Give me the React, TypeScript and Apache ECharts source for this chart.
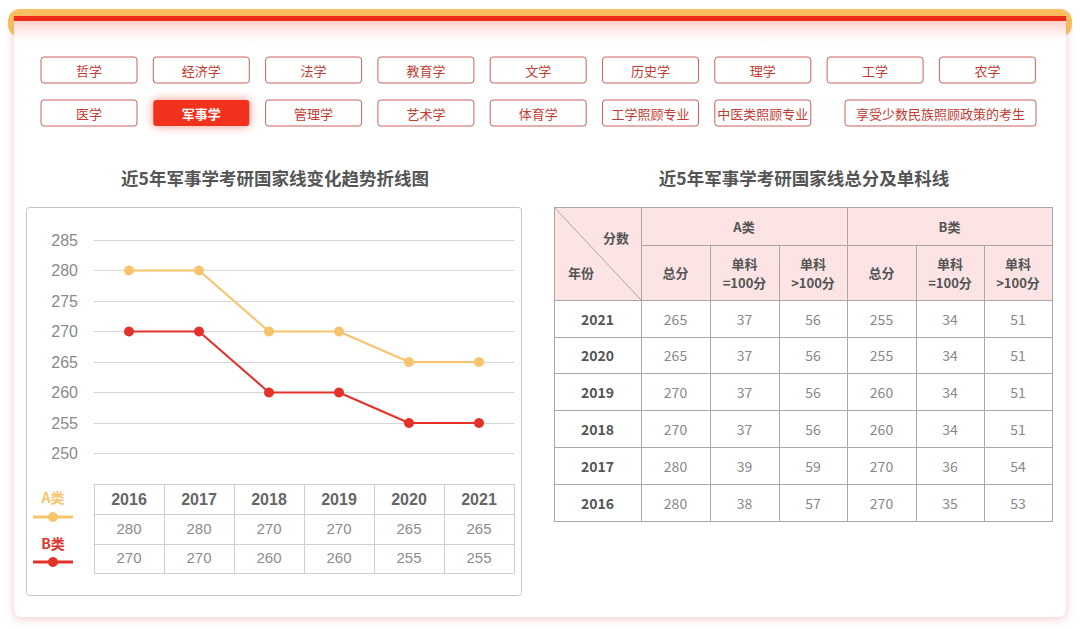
import React, { useEffect, useRef } from "react";
import * as echarts from "echarts";

const years = ["2016", "2017", "2018", "2019", "2020", "2021"];
const aLine = [280, 280, 270, 270, 265, 265];
const bLine = [270, 270, 260, 260, 255, 255];

const row1Buttons = ["哲学", "经济学", "法学", "教育学", "文学", "历史学", "理学", "工学", "农学"];
const row2Buttons = ["医学", "军事学", "管理学", "艺术学", "体育学", "工学照顾专业", "中医类照顾专业", "享受少数民族照顾政策的考生"];
const activeButton = "军事学";

const leftTitle = "近5年军事学考研国家线变化趋势折线图";
const rightTitle = "近5年军事学考研国家线总分及单科线";

const tableYears = ["2021", "2020", "2019", "2018", "2017", "2016"];
const aTotal = [265, 265, 270, 270, 280, 280];
const aSingle100 = [37, 37, 37, 37, 39, 38];
const aSingleOver = [56, 56, 56, 56, 59, 57];
const bTotal = [255, 255, 260, 260, 270, 270];
const bSingle100 = [34, 34, 34, 34, 36, 35];
const bSingleOver = [51, 51, 51, 51, 54, 53];
const subHeaders = ["总分", "单科\n=100分", "单科\n>100分"];

const CJK = "'Noto Sans CJK SC', 'Noto Sans', sans-serif";
const ARIAL = "'Liberation Sans', Arial, sans-serif";
const A_COLOR = "#f7c46c";
const B_COLOR = "#e2322a";

function buildGraphic() {
  const els: any[] = [];
  let z2 = 0;
  const add = (e: any) => {
    e.z = 0;
    e.z2 = z2++;
    els.push(e);
  };
  // frame
  add({ type: "rect", shape: { x: 8, y: 9, width: 1064, height: 28, r: 12 }, style: { fill: "#fbc05c" } });
  add({
    type: "rect",
    shape: { x: 14, y: 16, width: 1052, height: 601, r: [3, 3, 8, 8] },
    style: { fill: "#ffffff", shadowBlur: 10, shadowColor: "rgba(225,140,140,0.45)", shadowOffsetY: 2 },
  });
  add({ type: "rect", shape: { x: 14, y: 16, width: 1052, height: 5 }, style: { fill: "#ee2a1a" } });
  add({
    type: "rect",
    shape: { x: 14, y: 21, width: 1052, height: 26 },
    style: {
      fill: new echarts.graphic.LinearGradient(0, 0, 0, 1, [
        { offset: 0, color: "rgba(250,110,100,0.35)" },
        { offset: 1, color: "rgba(255,255,255,0)" },
      ]),
    },
  });

  // buttons
  const btn = (label: string, x: number, y: number, w: number) => {
    const active = label === activeButton;
    add({
      type: "rect",
      shape: { x, y, width: w, height: 26, r: 3 },
      style: active
        ? { fill: "#f2301c", shadowBlur: 10, shadowColor: "rgba(240,50,30,0.55)" }
        : { fill: "#ffffff", stroke: "#c9625c", lineWidth: 1 },
    });
    add({
      type: "text",
      style: {
        x: x + w / 2,
        y: y + 13,
        text: label,
        align: "center",
        verticalAlign: "middle",
        fontSize: 13,
        fontFamily: CJK,
        fontWeight: active ? "bold" : "normal",
        fill: active ? "#ffffff" : "#c23b32",
      },
    });
  };
  row1Buttons.forEach((l, i) => btn(l, 41 + i * 112.3, 57, 96));
  row2Buttons.forEach((l, i) => {
    if (i === row2Buttons.length - 1) btn(l, 845, 100, 191);
    else btn(l, 41 + i * 112.3, 100, 96);
  });

  // titles
  const title = (t: string, x: number) =>
    add({
      type: "text",
      style: { x, y: 177, text: t, align: "center", verticalAlign: "middle", fontSize: 17.5, fontWeight: "bold", fontFamily: CJK, fill: "#555555" },
    });
  title(leftTitle, 275);
  title(rightTitle, 804);

  // left chart box
  add({ type: "rect", shape: { x: 26.5, y: 207.5, width: 495, height: 388, r: 3 }, style: { fill: "#ffffff", stroke: "#c4c4c4", lineWidth: 1 } });

  // legend
  const legend = (label: string, color: string, ty: number, ly: number) => {
    add({
      type: "text",
      style: { x: 53, y: ty, text: label, align: "center", verticalAlign: "middle", fontSize: 14, fontWeight: "bold", fontFamily: CJK, fill: color },
    });
    add({ type: "line", shape: { x1: 33, y1: ly, x2: 73, y2: ly }, style: { stroke: color, lineWidth: 3 } });
    add({ type: "circle", shape: { cx: 53, cy: ly, r: 5 }, style: { fill: color } });
  };
  legend("A类", A_COLOR, 497, 517);
  legend("B类", B_COLOR, 543, 562);

  // right table
  const xs = [554, 641, 710, 779, 847, 916, 984, 1052];
  const ys = [207, 245, 300, 337, 373, 410, 447, 484, 521];
  const border = "#a8a8a8";
  add({ type: "rect", shape: { x: xs[0], y: ys[0], width: xs[7] - xs[0], height: ys[2] - ys[0] }, style: { fill: "#fce4e4" } });
  add({ type: "rect", shape: { x: xs[0], y: ys[2], width: xs[7] - xs[0], height: ys[8] - ys[2] }, style: { fill: "#ffffff" } });
  const hl = (x1: number, x2: number, y: number) =>
    add({ type: "line", shape: { x1, y1: y + 0.5, x2, y2: y + 0.5 }, style: { stroke: border, lineWidth: 1 } });
  const vl = (x: number, y1: number, y2: number) =>
    add({ type: "line", shape: { x1: x + 0.5, y1, x2: x + 0.5, y2 }, style: { stroke: border, lineWidth: 1 } });
  hl(xs[0], xs[7], ys[0]);
  hl(xs[1], xs[7], ys[1]);
  for (let r = 2; r < ys.length; r++) hl(xs[0], xs[7], ys[r]);
  [0, 1, 4, 7].forEach((c) => vl(xs[c], ys[0], ys[8] + 1));
  [2, 3, 5, 6].forEach((c) => vl(xs[c], ys[1], ys[8] + 1));
  add({ type: "line", shape: { x1: xs[0], y1: ys[0], x2: xs[1], y2: ys[2] }, style: { stroke: border, lineWidth: 1 } });

  const cellText = (t: string, cx: number, cy: number, bold: boolean, color: string, size: number, lh?: number) =>
    add({
      type: "text",
      style: {
        x: cx,
        y: cy,
        text: t,
        align: "center",
        verticalAlign: "middle",
        fontSize: size,
        fontWeight: bold ? "bold" : "normal",
        fontFamily: CJK,
        fill: color,
        lineHeight: lh,
      },
    });
  cellText("分数", 616, 237, true, "#555555", 13);
  cellText("年份", 581, 272, true, "#555555", 13);
  cellText("A类", (xs[1] + xs[4]) / 2, (ys[0] + ys[1]) / 2, true, "#555555", 13);
  cellText("B类", (xs[4] + xs[7]) / 2, (ys[0] + ys[1]) / 2, true, "#555555", 13);
  for (let c = 0; c < 6; c++) {
    cellText(subHeaders[c % 3], (xs[c + 1] + xs[c + 2]) / 2, (ys[1] + ys[2]) / 2, true, "#555555", 13, 19);
  }
  const cols = [aTotal, aSingle100, aSingleOver, bTotal, bSingle100, bSingleOver];
  tableYears.forEach((yr, r) => {
    const cy = (ys[r + 2] + ys[r + 3]) / 2;
    cellText(yr, (xs[0] + xs[1]) / 2, cy, true, "#555555", 14);
    cols.forEach((col, c) => cellText(String(col[r]), (xs[c + 1] + xs[c + 2]) / 2, cy, false, "#888888", 14));
  });
  return els;
}

export default function App() {
  const ref = useRef<HTMLDivElement>(null);
  useEffect(() => {
    if (!ref.current) return;
    const chart = echarts.init(ref.current, null, { renderer: "svg" });
    const gridLine = "#d6d6d6";
    const tableLine = "#cfcfcf";
    chart.setOption({
      animation: false,
      backgroundColor: "#ffffff",
      graphic: { elements: buildGraphic() },
      grid: { left: 94, right: 566, top: 240, bottom: 145 },
      yAxis: {
        type: "value",
        min: 245,
        max: 285,
        interval: 5,
        z: 5,
        axisLine: { show: false },
        axisTick: { show: false },
        axisLabel: {
          formatter: (v: number) => (v === 245 ? "" : String(v)),
          color: "#8a8a8a",
          fontSize: 16,
          fontFamily: ARIAL,
          margin: 16,
        },
        splitLine: { lineStyle: { color: gridLine, width: 1 } },
      },
      xAxis: [
        {
          type: "category",
          data: years,
          position: "bottom",
          z: 5,
          axisLine: { show: true, lineStyle: { color: tableLine } },
          axisTick: { show: true, length: 89, lineStyle: { color: tableLine } },
          axisLabel: { color: "#666666", fontSize: 16, fontWeight: "bold", fontFamily: ARIAL, margin: 7 },
        },
        {
          type: "category",
          data: aLine.map(String),
          position: "bottom",
          offset: 30,
          z: 5,
          axisLine: { show: true, lineStyle: { color: tableLine } },
          axisTick: { show: false },
          axisLabel: { color: "#8c8c8c", fontSize: 15, fontFamily: ARIAL, margin: 7 },
        },
        {
          type: "category",
          data: bLine.map(String),
          position: "bottom",
          offset: 60,
          z: 5,
          axisLine: { show: true, lineStyle: { color: tableLine } },
          axisTick: { show: false },
          axisLabel: { color: "#8c8c8c", fontSize: 15, fontFamily: ARIAL, margin: 6 },
        },
        {
          type: "category",
          data: years,
          position: "bottom",
          offset: 89,
          z: 5,
          axisLine: { show: true, lineStyle: { color: tableLine } },
          axisTick: { show: false },
          axisLabel: { show: false },
        },
      ],
      series: [
        {
          name: "A类",
          type: "line",
          data: aLine,
          xAxisIndex: 0,
          z: 10,
          symbol: "circle",
          symbolSize: 10,
          itemStyle: { color: A_COLOR },
          lineStyle: { color: A_COLOR, width: 2 },
        },
        {
          name: "B类",
          type: "line",
          data: bLine,
          xAxisIndex: 0,
          z: 11,
          symbol: "circle",
          symbolSize: 10,
          itemStyle: { color: B_COLOR },
          lineStyle: { color: B_COLOR, width: 2 },
        },
      ],
    });
    return () => chart.dispose();
  }, []);
  return <div ref={ref} style={{ position: "absolute", left: 0, top: 0, width: 1080, height: 629 }} />;
}
